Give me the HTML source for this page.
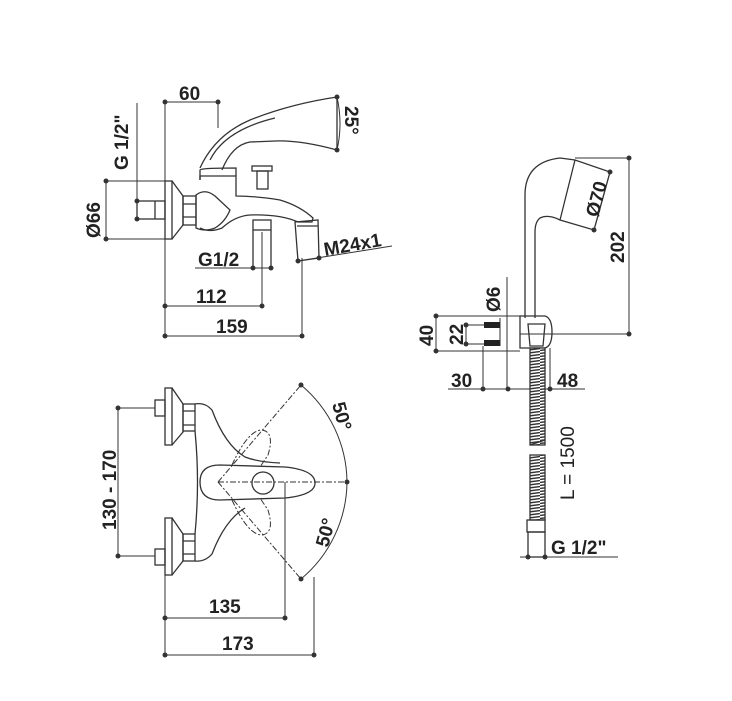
<!DOCTYPE html>
<html><head><meta charset="utf-8"><style>
body{margin:0;background:#fff}
svg{display:block}
text{font-family:"Liberation Sans",sans-serif;font-weight:bold;font-size:19px;fill:#222}
.l{stroke:#333;stroke-width:1.3;fill:none}
.t{stroke:#333;stroke-width:1;fill:none}
.d{stroke:#333;stroke-width:1;fill:none;stroke-dasharray:6 2 2 2}
</style></head><body>
<svg width="732" height="701" viewBox="0 0 732 701">
<defs><pattern id="h" width="15" height="3" patternUnits="userSpaceOnUse"><rect width="15" height="3" fill="#fff"/><line x1="0" y1="2.5" x2="15" y2="0.5" stroke="#333" stroke-width="1.4"/></pattern></defs>
<g fill="#333">
<circle cx="165" cy="102" r="2.5"/><circle cx="218" cy="102" r="2.5"/><circle cx="337" cy="97" r="2.5"/><circle cx="337" cy="150" r="2.5"/>
<circle cx="137" cy="201" r="2.5"/><circle cx="137" cy="219" r="2.5"/><circle cx="106" cy="181" r="2.5"/><circle cx="106" cy="239" r="2.5"/>
<circle cx="253" cy="268" r="2.5"/><circle cx="271" cy="268" r="2.5"/><circle cx="298" cy="261" r="2.5"/><circle cx="319" cy="258" r="2.5"/>
<circle cx="165" cy="306" r="2.5"/><circle cx="262" cy="306" r="2.5"/><circle cx="165" cy="336" r="2.5"/><circle cx="302" cy="336" r="2.5"/>
<circle cx="118" cy="408" r="2.5"/><circle cx="118" cy="556" r="2.5"/><circle cx="301" cy="385" r="2.5"/><circle cx="301" cy="579" r="2.5"/><circle cx="347" cy="482" r="2.5"/>
<circle cx="165" cy="618" r="2.5"/><circle cx="285" cy="618" r="2.5"/><circle cx="165" cy="655" r="2.5"/><circle cx="314" cy="655" r="2.5"/>
<circle cx="629" cy="158" r="2.5"/><circle cx="629" cy="334" r="2.5"/><circle cx="610" cy="172" r="2.5"/><circle cx="594" cy="230" r="2.5"/>
<circle cx="436" cy="316" r="2.5"/><circle cx="436" cy="351" r="2.5"/><circle cx="466" cy="325" r="2.5"/><circle cx="466" cy="344" r="2.5"/>
<circle cx="483" cy="389" r="2.5"/><circle cx="508" cy="389" r="2.5"/><circle cx="550" cy="389" r="2.5"/><circle cx="528" cy="557" r="2.5"/><circle cx="545" cy="557" r="2.5"/>
</g>
<!-- TOP VIEW -->
<g class="t">
<path d="M165 102V336M165 102H218V128M137 103V220M106 181H172M106 239H172M106 181V239"/>
<path d="M195 268H271M253 268V220M271 268V232M262 232V306M165 306H262M302 258V336M165 336H302M298 261L392 246"/>
<path d="M337 97Q343 124 337 150"/>
</g>
<g class="l">
<rect x="137" y="201" width="28" height="18"/><path d="M155 201V219"/>
<rect x="165" y="181" width="7" height="58"/><path d="M172 181L183 196V225L172 239"/>
<rect x="183" y="196" width="13" height="29"/><path d="M183 204H196M183 217H196"/>
<path d="M196 195Q205 188 215 196L230 210Q225 222 215 228Q205 232 196 228Z"/>
<path d="M200 180V176H236V196Q255 196 280 200Q300 206 313 218L312 222L298 222Q280 214 250 215Q235 216 222 228Q210 233 200 228"/>
<path d="M200 170Q200 168 236 168V176M200 170V180"/>
<path d="M200 168Q215 135 250 120Q290 104 337 97L337 150Q300 140 275 141L250 142Q232 145 222 170"/>
<path d="M210 160Q225 130 275 118"/>
<rect x="252" y="166" width="20" height="5"/><rect x="257" y="171" width="11" height="18"/>
<rect x="253" y="220" width="18" height="10"/><path d="M253 230V268M271 230V268"/>
<path d="M295 222L318 220L319 258L298 261Z"/><path d="M297 226H318"/>
</g>
<text x="179" y="100">60</text>
<text transform="translate(128,170) rotate(-90)">G 1/2"</text>
<text transform="translate(100,238) rotate(-90)">Ø66</text>
<text transform="translate(345,106) rotate(90)">25°</text>
<text x="198" y="266">G1/2</text>
<text transform="translate(325,256) rotate(-10)">M24x1</text>
<text x="196" y="303">112</text>
<text x="216" y="333">159</text>
<!-- BOTTOM VIEW -->
<g class="t">
<path d="M118 408V556M118 408H155M118 556H155M165 575V655M285 482V618M165 618H285M314 577V655M165 655H314"/>
<path d="M301 385A128 128 0 0 1 347 482M347 482A128 128 0 0 1 301 579"/>
</g>
<g class="d"><path d="M218 482L301 385M218 482L301 579M218 482H347"/></g>
<g class="l">
<rect x="155" y="400" width="10" height="16"/><rect x="165" y="388" width="7" height="57"/><path d="M172 388L183 404V432L172 445"/>
<rect x="183" y="404" width="12" height="27"/><path d="M183 411H195M183 425H195"/>
<rect x="155" y="549" width="10" height="16"/><rect x="165" y="518" width="7" height="57"/><path d="M172 518L183 534V561L172 575"/>
<rect x="183" y="534" width="12" height="27"/><path d="M183 541H195M183 554H195"/>
<path d="M195 404Q205 402 212 410Q225 445 245 457Q258 462 280 463"/>
<path d="M195 561Q205 562 212 554Q225 520 245 508"/>
<path d="M195 431Q200 482 195 534"/>
<path d="M200 482Q200 465 220 465L285 467Q315 470 315 483Q315 495 285 498L220 500Q200 500 200 482Z"/>
<circle cx="263" cy="483" r="11"/>
</g>
<g class="d">
<path d="M232 465Q248 430 262 430Q275 432 268 455L260 467"/>
<path d="M232 500Q248 535 262 535Q275 533 268 510L260 498"/>
</g>
<text transform="translate(116,530) rotate(-90)">130 - 170</text>
<text transform="translate(332,404) rotate(75)">50°</text>
<text transform="translate(328,548) rotate(-75)">50°</text>
<text x="209" y="613">135</text>
<text x="222" y="650">173</text>
<!-- RIGHT VIEW -->
<g class="t">
<path d="M575 158H629V334M520 334H629M610 172L594 230M436 316V351M436 316H520M436 351H520M466 325V344M466 325H484M466 344H484"/>
<path d="M507 277V389M500 318V346M483 346V389M448 389H585M550 348V389M520 557H618"/>
</g>
<g class="l">
<path d="M525 318V195Q525 162 560 158L575 160L610 172L594 230L560 220Q548 214 540 218Q535 222 535 232V318"/>
<path d="M575 160L560 220"/>
<path d="M520 316H545Q552 318 552 332Q552 346 545 348H520Z"/>
<path d="M528 324H545L543 346H530Z"/>
<rect x="530" y="348" width="15" height="97" fill="url(#h)"/>
<path d="M530 445L545 440"/>
<rect x="530" y="455" width="15" height="65" fill="url(#h)"/>
<rect x="527" y="520" width="18" height="12"/><rect x="528" y="532" width="17" height="25"/>
</g>
<rect x="484" y="322" width="16" height="6" fill="#222"/><rect x="484" y="340" width="16" height="6" fill="#222"/>
<text transform="translate(624,263) rotate(-90)">202</text>
<text transform="translate(598,218) rotate(-75)">Ø70</text>
<text transform="translate(500,312) rotate(-90)">Ø6</text>
<text transform="translate(433,346) rotate(-90)">40</text>
<text transform="translate(463,345) rotate(-90)">22</text>
<text x="451" y="387">30</text>
<text x="557" y="387">48</text>
<text transform="translate(574,500) rotate(-90)" style="font-weight:normal">L = 1500</text>
<text x="551" y="554">G 1/2"</text>
</svg>
</body></html>
